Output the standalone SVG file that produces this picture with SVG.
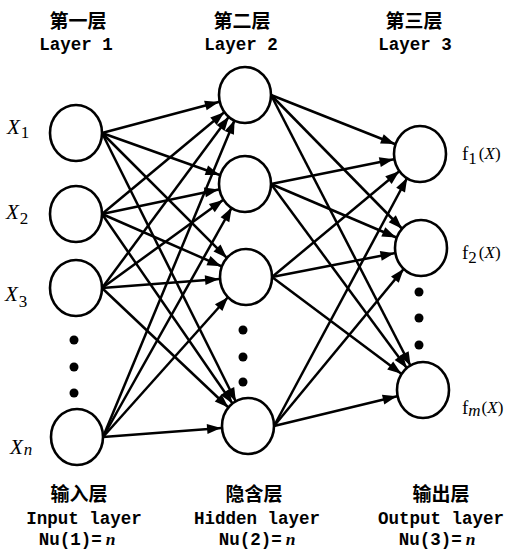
<svg xmlns="http://www.w3.org/2000/svg" width="511" height="550" viewBox="0 0 511 550">
  <style>
    .node { fill: #fff; stroke: #000; stroke-width: 2.6; }
    .link { stroke: #000; stroke-width: 2.5; fill: none; marker-end: url(#arrow); }
    .dot { fill: #000; }
    .cjk { font-family: "Noto Sans CJK SC", sans-serif; font-weight: 700; font-size: 19px; fill: #000; text-anchor: middle; }
    .mono { font-family: "Liberation Mono", monospace; font-weight: 700; font-size: 17.5px; fill: #000; text-anchor: middle; }
    .var { font-family: "Liberation Serif", serif; font-style: italic; font-size: 21px; fill: #000; }
    .sub { font-family: "Liberation Serif", serif; font-style: normal; font-size: 17px; }
    .fn { font-family: "Liberation Serif", serif; font-size: 19px; fill: #000; }
    .it { font-style: italic; }
    .nval { font-family: "Liberation Serif", serif; font-style: italic; font-weight: 700; }
  </style>
  <defs>
    <!-- arrow tip sits 27px before the line end, i.e. on the rim of the target node -->
    <marker id="arrow" markerUnits="userSpaceOnUse" markerWidth="15" markerHeight="10" refX="41" refY="5" orient="auto" overflow="visible">
      <path d="M0,0 L14,5 L0,10 z" fill="#000"/>
    </marker>
  </defs>

  <!-- column headings -->
  <g id="heading-layer1">
    <text class="cjk" x="78" y="28">第一层</text>
    <text class="mono" x="76" y="50">Layer 1</text>
  </g>
  <g id="heading-layer2">
    <text class="cjk" x="242" y="28">第二层</text>
    <text class="mono" x="241" y="50">Layer 2</text>
  </g>
  <g id="heading-layer3">
    <text class="cjk" x="414" y="28">第三层</text>
    <text class="mono" x="415" y="50">Layer 3</text>
  </g>

  <!-- connectors -->
  <g id="connectors">
    <!-- input -> hidden -->
    <line class="link" x1="102" y1="133" x2="245" y2="95"/>
    <line class="link" x1="102" y1="133" x2="245" y2="184"/>
    <line class="link" x1="102" y1="133" x2="246" y2="277"/>
    <line class="link" x1="102" y1="133" x2="248" y2="426"/>
    <line class="link" x1="102" y1="214" x2="245" y2="95"/>
    <line class="link" x1="102" y1="214" x2="245" y2="184"/>
    <line class="link" x1="102" y1="214" x2="246" y2="277"/>
    <line class="link" x1="102" y1="214" x2="248" y2="426"/>
    <line class="link" x1="102" y1="288" x2="245" y2="95"/>
    <line class="link" x1="102" y1="288" x2="245" y2="184"/>
    <line class="link" x1="102" y1="288" x2="246" y2="277"/>
    <line class="link" x1="102" y1="288" x2="248" y2="426"/>
    <line class="link" x1="103" y1="437" x2="245" y2="95"/>
    <line class="link" x1="103" y1="437" x2="245" y2="184"/>
    <line class="link" x1="103" y1="437" x2="246" y2="277"/>
    <line class="link" x1="103" y1="437" x2="248" y2="426"/>
    <!-- hidden -> output -->
    <line class="link" x1="271" y1="95" x2="420" y2="154"/>
    <line class="link" x1="271" y1="95" x2="421" y2="248"/>
    <line class="link" x1="271" y1="95" x2="423" y2="390"/>
    <line class="link" x1="271" y1="184" x2="420" y2="154"/>
    <line class="link" x1="271" y1="184" x2="421" y2="248"/>
    <line class="link" x1="271" y1="184" x2="423" y2="390"/>
    <line class="link" x1="272" y1="277" x2="420" y2="154"/>
    <line class="link" x1="272" y1="277" x2="421" y2="248"/>
    <line class="link" x1="272" y1="277" x2="423" y2="390"/>
    <line class="link" x1="274" y1="426" x2="420" y2="154"/>
    <line class="link" x1="274" y1="426" x2="421" y2="248"/>
    <line class="link" x1="274" y1="426" x2="423" y2="390"/>
  </g>

  <!-- input layer -->
  <g id="in-1">
    <ellipse class="node" cx="76" cy="133" rx="26" ry="28"/>
    <text class="var" x="7" y="134">X<tspan class="sub" dx="1" dy="4">1</tspan></text>
  </g>
  <g id="in-2">
    <ellipse class="node" cx="76" cy="214" rx="26" ry="28"/>
    <text class="var" x="6" y="219">X<tspan class="sub" dx="1" dy="5">2</tspan></text>
  </g>
  <g id="in-3">
    <ellipse class="node" cx="76" cy="288" rx="26" ry="28"/>
    <text class="var" x="5" y="301">X<tspan class="sub" dx="1" dy="6">3</tspan></text>
  </g>
  <g id="in-dots">
    <circle class="dot" cx="74" cy="340" r="4.5"/>
    <circle class="dot" cx="74" cy="367" r="4.5"/>
    <circle class="dot" cx="74" cy="393" r="4.5"/>
  </g>
  <g id="in-n">
    <ellipse class="node" cx="77" cy="437" rx="26" ry="28"/>
    <text class="var" x="10" y="454">X<tspan class="sub it" dx="1" dy="1">n</tspan></text>
  </g>

  <!-- hidden layer -->
  <g id="hid-1"><ellipse class="node" cx="245" cy="95" rx="26" ry="28"/></g>
  <g id="hid-2"><ellipse class="node" cx="245" cy="184" rx="26" ry="28"/></g>
  <g id="hid-3"><ellipse class="node" cx="246" cy="277" rx="26" ry="28"/></g>
  <g id="hid-dots">
    <circle class="dot" cx="243" cy="330" r="4.5"/>
    <circle class="dot" cx="243" cy="357" r="4.5"/>
    <circle class="dot" cx="243" cy="382" r="4.5"/>
  </g>
  <g id="hid-n"><ellipse class="node" cx="248" cy="426" rx="26" ry="28"/></g>

  <!-- output layer -->
  <g id="out-1">
    <ellipse class="node" cx="420" cy="154" rx="26" ry="28"/>
    <text class="fn" x="462" y="160">f<tspan class="sub" font-size="15" dy="4">1</tspan><tspan font-size="17" dx="2" dy="-5">(<tspan class="it">X</tspan>)</tspan></text>
  </g>
  <g id="out-2">
    <ellipse class="node" cx="421" cy="248" rx="26" ry="28"/>
    <text class="fn" x="462" y="259">f<tspan class="sub" font-size="15" dy="4">2</tspan><tspan font-size="17" dx="2" dy="-5">(<tspan class="it">X</tspan>)</tspan></text>
  </g>
  <g id="out-dots">
    <circle class="dot" cx="419" cy="292" r="4.5"/>
    <circle class="dot" cx="419" cy="318" r="4.5"/>
    <circle class="dot" cx="419" cy="345" r="4.5"/>
  </g>
  <g id="out-m">
    <ellipse class="node" cx="423" cy="390" rx="26" ry="28"/>
    <text class="fn" x="462" y="414">f<tspan class="sub it" font-size="15" dy="2">m</tspan><tspan font-size="17" dx="1" dy="-3">(<tspan class="it">X</tspan>)</tspan></text>
  </g>

  <!-- column captions -->
  <g id="caption-input">
    <text class="cjk" x="79" y="501">输入层</text>
    <text class="mono" x="84" y="524">Input layer</text>
    <text class="mono" x="77" y="545">Nu(1)=<tspan class="nval" dx="4">n</tspan></text>
  </g>
  <g id="caption-hidden">
    <text class="cjk" x="254" y="501">隐含层</text>
    <text class="mono" x="257" y="524">Hidden layer</text>
    <text class="mono" x="257" y="545">Nu(2)=<tspan class="nval" dx="4">n</tspan></text>
  </g>
  <g id="caption-output">
    <text class="cjk" x="441" y="501">输出层</text>
    <text class="mono" x="441" y="524">Output layer</text>
    <text class="mono" x="437" y="545">Nu(3)=<tspan class="nval" dx="4">n</tspan></text>
  </g>
</svg>
